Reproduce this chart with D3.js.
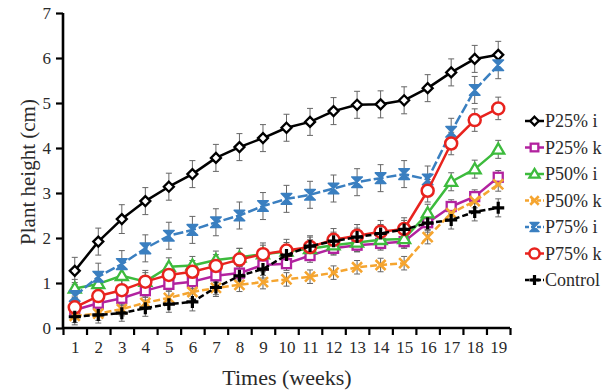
<!DOCTYPE html>
<html><head><meta charset="utf-8">
<script src="https://cdn.jsdelivr.net/npm/d3@7"></script>
<style>html,body{margin:0;padding:0;background:#fff;}svg{display:block;}</style>
</head><body>
<svg id="c" width="613" height="391"></svg>
<script>
const weeks = d3.range(1, 20);
const yTicks = [0,1,2,3,4,5,6,7];
const seriesNames = ["P25% i","P25% k","P50% i","P50% k","P75% i","P75% k","Control"];
const p25i = [1.27,1.92,2.42,2.82,3.14,3.42,3.78,4.02,4.22,4.45,4.58,4.82,4.96,4.97,5.06,5.33,5.68,5.98,6.07];
const p25k = [0.40,0.55,0.66,0.83,0.97,1.03,1.16,1.22,1.40,1.43,1.61,1.77,1.84,1.88,1.92,2.34,2.70,2.92,3.35];
const p50i = [0.88,0.98,1.16,1.03,1.36,1.39,1.51,1.57,1.64,1.70,1.76,1.84,1.90,1.96,1.98,2.55,3.25,3.53,3.97];
const p50k = [0.27,0.32,0.42,0.56,0.67,0.80,0.89,0.96,1.02,1.08,1.14,1.23,1.35,1.40,1.44,2.02,2.55,2.82,3.19];
const p75i = [0.71,1.14,1.42,1.77,2.05,2.18,2.35,2.50,2.71,2.87,2.96,3.10,3.24,3.33,3.42,3.30,4.36,5.29,5.84];
const p75k = [0.46,0.71,0.84,1.03,1.18,1.25,1.38,1.52,1.64,1.72,1.80,1.96,2.05,2.14,2.20,3.05,4.10,4.62,4.88];
const ctrl = [0.25,0.29,0.33,0.44,0.53,0.58,0.90,1.16,1.31,1.62,1.82,1.93,2.02,2.10,2.19,2.33,2.40,2.58,2.67];
const errP25i = [0.30,0.30,0.32,0.30,0.30,0.30,0.30,0.30,0.30,0.30,0.30,0.30,0.30,0.30,0.30,0.30,0.30,0.30,0.30];
const errP25k = [0.15,0.15,0.15,0.15,0.15,0.15,0.15,0.15,0.15,0.15,0.15,0.15,0.15,0.15,0.15,0.15,0.15,0.15,0.15];
const errP50i = [0.20,0.20,0.20,0.20,0.20,0.20,0.20,0.20,0.20,0.20,0.20,0.20,0.20,0.20,0.20,0.20,0.20,0.20,0.20];
const errP50k = [0.15,0.15,0.15,0.15,0.15,0.15,0.15,0.15,0.15,0.15,0.15,0.15,0.15,0.15,0.15,0.15,0.15,0.15,0.15];
const errP75i = [0.30,0.30,0.30,0.30,0.30,0.30,0.30,0.30,0.30,0.30,0.30,0.30,0.30,0.30,0.30,0.30,0.30,0.30,0.30];
const errP75k = [0.25,0.25,0.25,0.25,0.25,0.25,0.25,0.25,0.25,0.25,0.25,0.25,0.25,0.25,0.25,0.25,0.25,0.25,0.25];
const errCtrl = [0.18,0.18,0.18,0.18,0.18,0.20,0.20,0.20,0.20,0.20,0.20,0.20,0.20,0.20,0.20,0.20,0.20,0.20,0.20];

const styles = [
  {color:"#000000", dash:null, marker:"diamond"},
  {color:"#B2229F", dash:null, marker:"square"},
  {color:"#3DBB3D", dash:null, marker:"triangle"},
  {color:"#F5A530", dash:"7,3", marker:"x"},
  {color:"#3A7FC0", dash:"10,3", marker:"hourglass"},
  {color:"#E8231E", dash:null, marker:"circle"},
  {color:"#000000", dash:"6,3", marker:"plus"}
];
const seriesVals = [p25i,p25k,p50i,p50k,p75i,p75k,ctrl];
const seriesErr = [errP25i,errP25k,errP50i,errP50k,errP75i,errP75k,errCtrl];

const svg = d3.select("#c");
const font = "Liberation Serif";
const X0 = 63, X1 = 510, Y0 = 328, Y1 = 13;
const x = d3.scaleLinear().domain([0.5, 19.5]).range([X0, X1]);
const y = d3.scaleLinear().domain([0, 7]).range([Y0, Y1]);

// axes
const yAxis = svg.append("g").attr("transform", `translate(${X0},0)`)
  .call(d3.axisLeft(y).tickValues(yTicks).tickSize(7).tickPadding(5).tickFormat(d3.format("d")));
const xTickAxis = svg.append("g").attr("transform", `translate(0,${Y0})`)
  .call(d3.axisBottom(x).tickValues(d3.range(0.5, 20, 1)).tickSize(7).tickFormat(""));
const xLabAxis = svg.append("g").attr("transform", `translate(0,${Y0})`)
  .call(d3.axisBottom(x).tickValues(weeks).tickSize(0).tickPadding(13).tickFormat(d3.format("d")));
[yAxis, xTickAxis, xLabAxis].forEach(g => {
  g.attr("font-family", font);
  g.select(".domain").attr("stroke", "#000").attr("stroke-width", 2.6);
  g.selectAll(".tick line").attr("stroke", "#000").attr("stroke-width", 2.2);
  g.selectAll("text").attr("font-family", font).attr("font-size", 17).attr("fill", "#2a2a2a");
});
xLabAxis.select(".domain").remove();
xTickAxis.select(".domain").attr("d", `M${X0},0H${X1}`);
yAxis.select(".domain").attr("d", `M0,${Y0}V${Y1}`);

// axis titles
svg.append("text").attr("x", 287).attr("y", 385).attr("text-anchor", "middle")
  .attr("font-family", font).attr("font-size", 22).attr("fill", "#2a2a2a").text("Times (weeks)");
svg.append("text").attr("transform", "translate(35,172) rotate(-90)").attr("text-anchor", "middle")
  .attr("font-family", font).attr("font-size", 21).attr("fill", "#2a2a2a").text("Plant height (cm)");

function drawMarker(g, type, color, cx, cy, k) {
  k = k || 1;
  const sw = 2.3;
  if (type === "diamond") {
    const s = 5 * k;
    g.append("path").attr("d", `M${cx},${cy-s}L${cx+s},${cy}L${cx},${cy+s}L${cx-s},${cy}Z`)
      .attr("fill", "#fff").attr("stroke", color).attr("stroke-width", sw);
  } else if (type === "square") {
    const s = 4.5 * k;
    g.append("rect").attr("x", cx-s).attr("y", cy-s).attr("width", 2*s).attr("height", 2*s)
      .attr("fill", "#fff").attr("stroke", color).attr("stroke-width", sw);
  } else if (type === "triangle") {
    const s = 6 * k;
    g.append("path").attr("d", `M${cx},${cy-s}L${cx+s},${cy+s*0.7}L${cx-s},${cy+s*0.7}Z`)
      .attr("fill", "#fff").attr("stroke", color).attr("stroke-width", sw);
  } else if (type === "circle") {
    g.append("circle").attr("cx", cx).attr("cy", cy).attr("r", 6 * k)
      .attr("fill", "#fff").attr("stroke", color).attr("stroke-width", 2.5);
  } else if (type === "x") {
    const s = 5 * k;
    g.append("path").attr("d", `M${cx-s},${cy-s}L${cx+s},${cy+s}M${cx+s},${cy-s}L${cx-s},${cy+s}`)
      .attr("stroke", color).attr("stroke-width", 2.6).attr("fill", "none");
  } else if (type === "hourglass") {
    const s = 5.3 * k;
    g.append("path").attr("d", `M${cx-s},${cy-s}L${cx+s},${cy-s}L${cx-s},${cy+s}L${cx+s},${cy+s}Z`)
      .attr("fill", color).attr("stroke", color).attr("stroke-width", 1.5).attr("stroke-linejoin", "round");
  } else if (type === "plus") {
    const s = 6 * k;
    g.append("path").attr("d", `M${cx-s},${cy}H${cx+s}M${cx},${cy-s}V${cy+s}`)
      .attr("stroke", color).attr("stroke-width", 3.2).attr("fill", "none");
  }
}

// error bars
const eb = svg.append("g");
seriesVals.forEach((vals, si) => {
  vals.forEach((v, i) => {
    const e = seriesErr[si][i];
    const cx = x(weeks[i]);
    eb.append("path").attr("d", `M${cx},${y(v+e)}V${y(v-e)}M${cx-3},${y(v+e)}H${cx+3}M${cx-3},${y(v-e)}H${cx+3}`)
      .attr("stroke", "#666").attr("stroke-width", 1).attr("fill", "none");
  });
});

// lines and markers
const line = d3.line().x((d, i) => x(weeks[i])).y(d => y(d));
seriesVals.forEach((vals, si) => {
  const st = styles[si];
  const g = svg.append("g");
  g.append("path").datum(vals).attr("d", line).attr("fill", "none")
    .attr("stroke", st.color).attr("stroke-width", 2.5)
    .attr("stroke-dasharray", st.dash).attr("stroke-linejoin", "round");
  vals.forEach((v, i) => drawMarker(g, st.marker, st.color, x(weeks[i]), y(v)));
});

// legend
const lg = svg.append("g");
seriesNames.forEach((name, i) => {
  const st = styles[i];
  const ly = 121 + i * 26.5;
  lg.append("line").attr("x1", 525).attr("x2", 544).attr("y1", ly).attr("y2", ly)
    .attr("stroke", st.color).attr("stroke-width", 2.5).attr("stroke-dasharray", st.dash ? "4,2" : null);
  drawMarker(lg, st.marker, st.color, 534.5, ly, 0.85);
  lg.append("text").attr("x", 545).attr("y", ly + 6).attr("font-family", font)
    .attr("font-size", 18).attr("fill", "#2a2a2a").text(name);
});
</script>
</body></html>
